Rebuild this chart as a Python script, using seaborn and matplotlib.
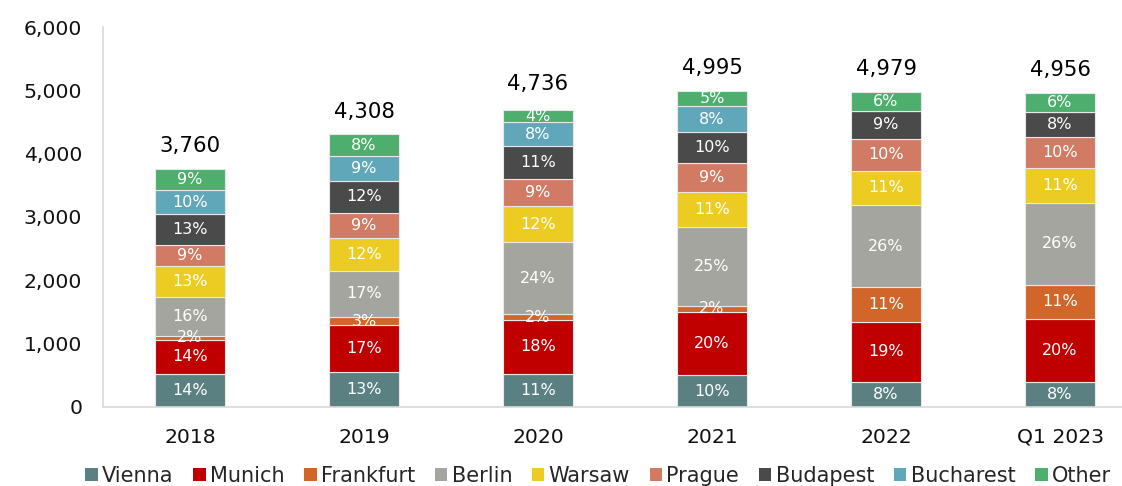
import pandas as pd
import seaborn as sns
import matplotlib.pyplot as plt
from matplotlib.patches import Patch

# chart data
periods = ['2018', '2019', '2020', '2021', '2022', 'Q1 2023']
totals = [3760, 4308, 4736, 4995, 4979, 4956]
cities = ['Vienna', 'Munich', 'Frankfurt', 'Berlin', 'Warsaw', 'Prague',
          'Budapest', 'Bucharest', 'Other']
vienna = [14, 13, 11, 10, 8, 8]
munich = [14, 17, 18, 20, 19, 20]
frankfurt = [2, 3, 2, 2, 11, 11]
berlin = [16, 17, 24, 25, 26, 26]
warsaw = [13, 12, 12, 11, 11, 11]
prague = [9, 9, 9, 9, 10, 10]
budapest = [13, 12, 11, 10, 9, 8]
bucharest = [10, 9, 8, 8, 0, 0]
other = [9, 8, 4, 5, 6, 6]
shares = [vienna, munich, frankfurt, berlin, warsaw, prague, budapest, bucharest, other]

colors = ['#5B8082', '#C00000', '#D2662A', '#A5A5A0', '#ECCC22',
          '#D27B64', '#4A4A4A', '#61A7BA', '#4DAE6E']

rows = []
for city, pcts in zip(cities, shares):
    for i, p in enumerate(pcts):
        rows.append({'pos': i, 'city': city, 'pct': p, 'value': totals[i] * p / 100})
df = pd.DataFrame(rows)

sns.set_style('white')
plt.rcParams['font.family'] = ['DejaVu Sans']

fig = plt.figure(figsize=(11.22, 4.86), dpi=100)
ax = fig.add_axes([0.0918, 0.1626, 0.9082, 0.7818])

# histplot stacks the last hue level at the bottom, so reverse the order
sns.histplot(data=df[df['value'] > 0], x='pos', weights='value', hue='city',
             hue_order=cities[::-1], multiple='stack', discrete=True, shrink=0.4,
             palette=dict(zip(cities, colors)), alpha=1,
             edgecolor='#E8E8E8', linewidth=0.8, legend=False, ax=ax)

# percentage labels inside the segments, totals on top
for i in range(len(periods)):
    base = 0
    for city, pcts in zip(cities, shares):
        v = totals[i] * pcts[i] / 100
        if pcts[i] > 0:
            ax.text(i, base + v / 2, f'{pcts[i]}%', ha='center', va='center',
                    color='white', fontsize=11.5)
        base += v
    ax.text(i, totals[i] + 200, f'{totals[i]:,}', ha='center', va='bottom',
            color='black', fontsize=15.3)

ax.set_xlim(-0.5, 5.356)
ax.set_ylim(0, 6000)
ax.set_yticks(range(0, 6001, 1000))
ax.set_yticklabels([f'{t:,}' for t in range(0, 6001, 1000)])
ax.set_xticks(range(len(periods)))
ax.set_xticklabels(periods)
ax.tick_params(axis='both', length=0, labelsize=14.7, pad=15, colors='#111111')
ax.set_xlabel('')
ax.set_ylabel('')
for s in ['top', 'right']:
    ax.spines[s].set_visible(False)
for s in ['left', 'bottom']:
    ax.spines[s].set_color('#D9D9D9')
    ax.spines[s].set_linewidth(1.2)

handles = [Patch(facecolor=c, edgecolor='none') for c in colors]
fig.legend(handles, cities, loc='center', bbox_to_anchor=(0.533, 0.021), ncol=9,
           frameon=False, fontsize=15, handlelength=0.6, handleheight=0.6,
           handletextpad=0.2, columnspacing=0.95, borderaxespad=0, borderpad=0)

fig.savefig('out.png', dpi=100)
